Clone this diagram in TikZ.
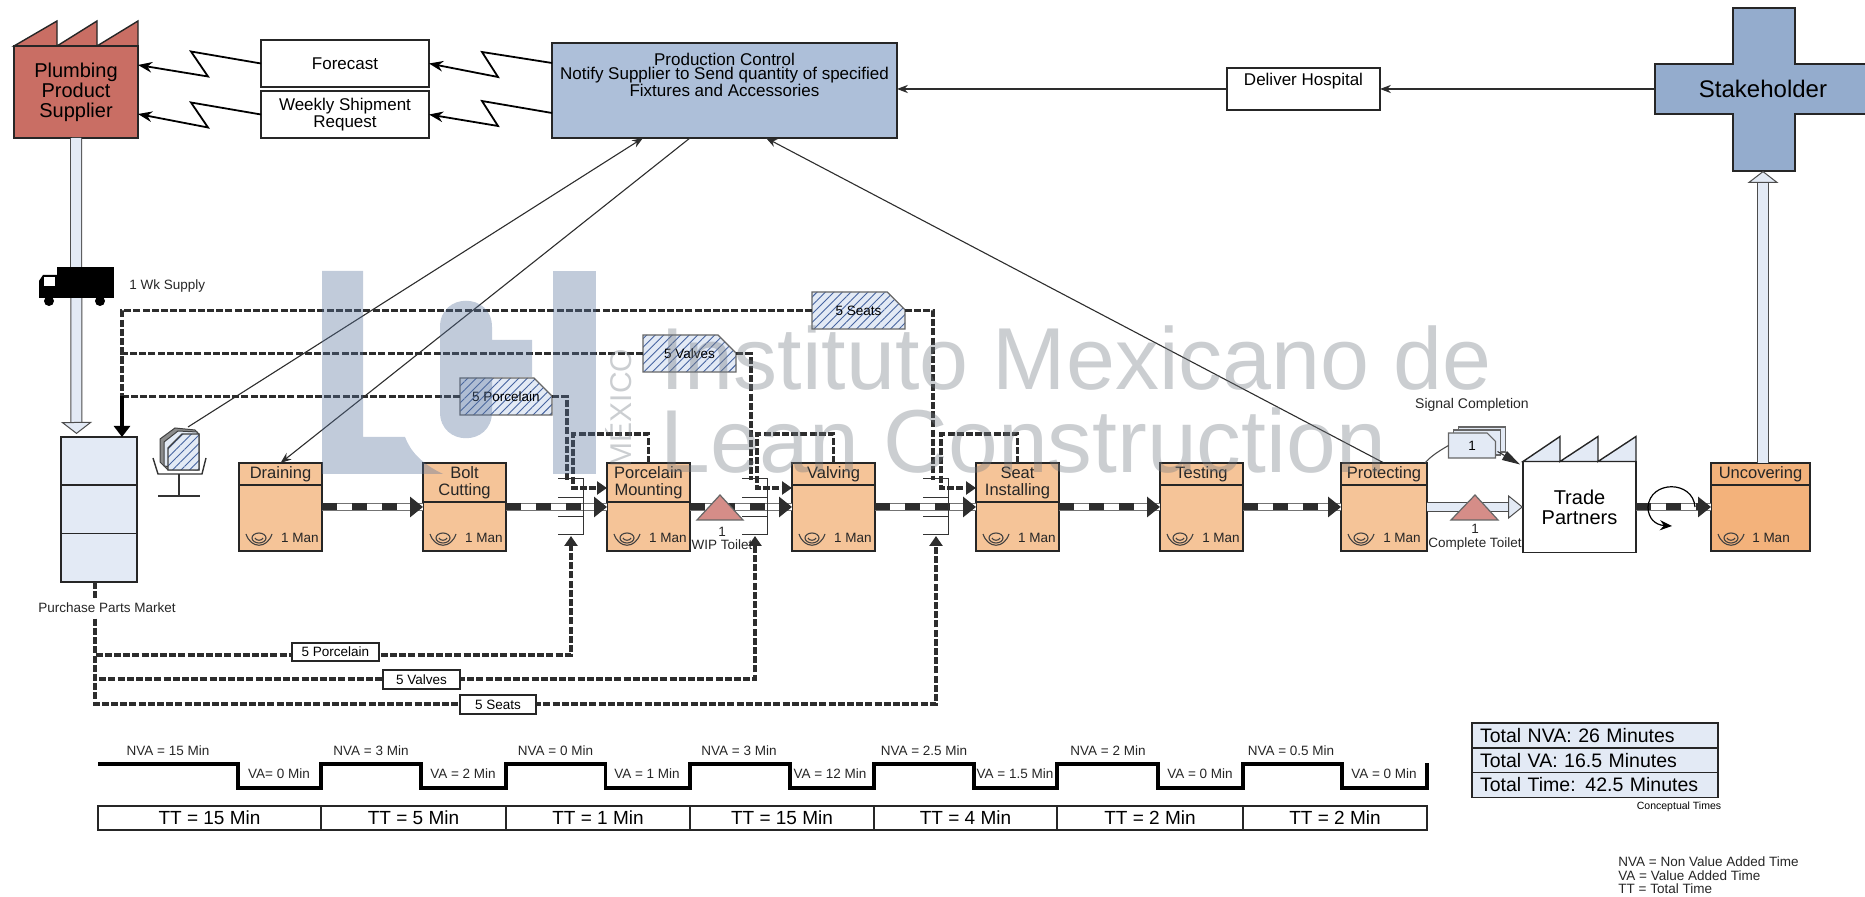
\documentclass[tikz,border=0pt]{standalone}
\usepackage{fontspec}
\setmainfont{Liberation Sans}
\usetikzlibrary{arrows.meta,positioning,shapes.misc,patterns.meta,calc}
\definecolor{SupplierRed}{RGB}{201,110,100}
\definecolor{ControlBlue}{RGB}{173,191,217}
\definecolor{StakeBlue}{RGB}{148,172,205}
\definecolor{PaleBlue}{RGB}{227,234,245}
\definecolor{ProcOrange}{RGB}{245,196,152}
\definecolor{LastOrange}{RGB}{243,178,123}
\definecolor{InvRed}{RGB}{213,141,136}
\definecolor{HatchBlue}{RGB}{70,100,160}
\definecolor{LineDark}{RGB}{45,45,45}
\definecolor{MarkBlue}{RGB}{87,114,155}
\definecolor{MarkGray}{RGB}{115,122,130}

\begin{document}
\begin{tikzpicture}[
    x=0.5pt, y=-0.5pt,
    >=Stealth,
    base/.style={draw=black!85, line width=0.7pt, inner sep=0pt, outer sep=0pt},
    infobox/.style={base, fill=white, minimum width=84pt, minimum height=23.5pt,
                    align=center, font=\fontsize{8.5}{6.75}\selectfont},
    factory/.style={base, align=center, font=\fontsize{10}{10}\selectfont},
    proc/.style={base, fill=#1, minimum width=41.5pt, minimum height=44pt},
    proc/.default=ProcOrange,
    proctitle/.style={inner sep=0pt, align=center, text=black!85, font=\fontsize{8.25}{8.5}\selectfont},
    mantext/.style={inner sep=0pt, text=black!85, font=\fontsize{6.75}{6.75}\selectfont},
    smalltxt/.style={inner sep=0pt, align=center, text=black!85, font=\fontsize{6.75}{6.75}\selectfont},
    qtybox/.style={base, fill=white, font=\fontsize{6.75}{6.75}\selectfont},
    kanban/.style={chamfered rectangle, chamfered rectangle corners=north east,
                   chamfered rectangle xsep=8pt, chamfered rectangle ysep=6.5pt,
                   draw=black!60, line width=0.6pt, inner sep=0pt, outer sep=0pt,
                   minimum width=46.5pt, minimum height=18.5pt,
                   preaction={fill=PaleBlue},
                   pattern={Lines[angle=45,distance=3pt,line width=0.45pt]}, pattern color=HatchBlue,
                   font=\fontsize{6.75}{6.75}\selectfont},
    sigcard/.style={chamfered rectangle, chamfered rectangle corners=north east,
                    chamfered rectangle xsep=8pt, chamfered rectangle ysep=7pt,
                    draw=black!60, fill=PaleBlue, line width=0.6pt, inner sep=0pt, outer sep=0pt,
                    minimum width=23.5pt, minimum height=12.5pt,
                    font=\fontsize{6.75}{6.75}\selectfont},
    elec/.style={->, line width=0.9pt, draw=black},
    info/.style={->, line width=0.55pt, draw=LineDark},
    signal/.style={draw=LineDark, line width=1.8pt, dash pattern=on 3.5pt off 1.1pt},
    sigarr/.style={signal, -{Triangle[length=5pt,width=6.5pt]}},
    pushflow/.style={draw=LineDark, line width=3.5pt, dash pattern=on 7.5pt off 7.5pt,
                     -{Triangle[length=6.5pt,width=10pt]},
                     preaction={draw=black!55, line width=0.35pt, solid, double=white,
                                double distance=3pt, arrows=-}},
    hollow/.style={draw=black!70, line width=0.5pt, double=PaleBlue, double distance=5pt,
                   -{Triangle[length=6pt,width=15.5pt,fill=PaleBlue]}},
    invtri/.style={draw=black!60, fill=InvRed, line width=0.6pt},
    timeline/.style={draw=black, line width=1.9pt},
    ttcell/.style={base, fill=white, minimum height=12pt, font=\fontsize{9.5}{9.5}\selectfont},
    totalrow/.style={base, fill=PaleBlue, text width=115pt, inner xsep=4pt, minimum height=12.35pt,
                     align=left, font=\fontsize{9.75}{9.75}\selectfont},
    operator/.pic={
        \draw[black!75, line width=0.55pt] (0,0) ellipse (7 and 5);
        \draw[black!75, line width=0.55pt] (-13,-4) .. controls (-8,11) and (8,11) .. (13,-4);
        \draw[black!75, line width=0.55pt] (-4,0) .. controls (-3,3) and (3,3) .. (4,0);
    },
    supermkt/.pic={
        \draw[black!80, line width=0.5pt] (-25,0) -- (0,0) -- (0,56) -- (-25,56);
        \draw[black!80, line width=0.5pt] (-25,19) -- (0,19);
        \draw[black!80, line width=0.5pt] (-25,38) -- (0,38);
    },
]
\clip (0,0) rectangle (1865,897);

% ── Supplier with roof ──
\draw[base, fill=SupplierRed] (14,46) -- (57,21) -- (57,46) -- (97,21) -- (97,46) -- (138,21) -- (138,46) -- cycle;
\node[factory, fill=SupplierRed, minimum width=62pt, minimum height=46pt] (supplier) at (76,92)
    {Plumbing\\Product\\Supplier};

% ── Info boxes ──
\node[infobox] (forecast) at (345,63.5) {Forecast};
\node[infobox, below=2pt of forecast] (weekly) {Weekly Shipment\\Request};
\node[base, fill=ControlBlue, minimum width=172.5pt, minimum height=47.5pt] (production) at (724.5,90.5) {};
\node[inner sep=0pt, align=center, font=\fontsize{8.5}{6.9}\selectfont] (prodtext)
    at ([yshift=-16pt]production.north) {Production Control\\Notify Supplier to Send quantity of specified\\Fixtures and Accessories};
\node[base, fill=white, minimum width=76.5pt, minimum height=21pt] (deliver) at (1303.5,89) {};
\node[inner sep=0pt, font=\fontsize{8.5}{8.5}\selectfont] (delivertext)
    at ([yshift=-6.5pt]deliver.north) {Deliver Hospital};

% ── Stakeholder cross ──
\draw[base, fill=StakeBlue] (1655,64) -- (1733,64) -- (1733,8) -- (1795,8) -- (1795,64) -- (1875,64)
    -- (1875,114) -- (1795,114) -- (1795,171) -- (1733,171) -- (1733,114) -- (1655,114) -- cycle;
\node[minimum width=108pt, minimum height=25pt, inner sep=0pt, outer sep=0pt,
      font=\fontsize{12}{12}\selectfont] (stakeholder) at (1763,89) {Stakeholder};
\coordinate (stakein) at (1763,171);

% ── Electronic signals ──
\draw[elec] ([yshift=13.75pt]production.west) -- ++(-70,-11) -- ++(16,25) -- (forecast.east);
\draw[elec] ([yshift=-11.25pt]production.west) -- ++(-70,-12) -- ++(16,25) -- (weekly.east);
\draw[elec] (forecast.west) -- ++(-70,-12) -- ++(17,25) -- ([yshift=13.5pt]supplier.east);
\draw[elec] (weekly.west) -- ++(-70,-12) -- ++(17,25) -- ([yshift=-11pt]supplier.east);
\draw[info] (stakeholder.west) -- (deliver.east);
\draw[info] (deliver.west) -- (production.east |- deliver.west);

% ── Purchase parts market ──
\node[base, fill=PaleBlue, minimum width=38pt, minimum height=24.17pt] (marketA) at (99,461) {};
\node[base, fill=PaleBlue, minimum width=38pt, minimum height=24.17pt, below=0pt of marketA] (marketB) {};
\node[base, fill=PaleBlue, minimum width=38pt, minimum height=24.17pt, below=0pt of marketB] (marketC) {};
\coordinate (mktin) at (122,437);
\coordinate (mktjoin) at (122,396.5);
\coordinate (mktout) at (95,582);
\coordinate (truckin) at (76.5,434);

% ── Push from supplier, truck on top ──
\draw[hollow] (supplier.south) -- (truckin);
\fill[black] (57,267) rectangle (114,298);
\fill[black] (39,298) -- (39,281) -- (43,275) -- (57,275) -- (57,298) -- cycle;
\fill[white] (43.5,277) rectangle (54.5,286);
\fill[black] (49,301) circle (5) (100,301) circle (5);
\node[smalltxt, anchor=west] (wksupply) at (129,286) {1 Wk Supply};

% ── Process boxes ──
\node[proc, anchor=north west] (draining) at (239,463) {};
\node[proc, right=50.5pt of draining] (bolt) {};
\node[proc, right=50.5pt of bolt] (porcelain) {};
\node[proc, right=51pt of porcelain] (valving) {};
\node[proc, right=50.5pt of valving] (seat) {};
\node[proc, right=50.5pt of seat] (testing) {};
\node[proc, right=49pt of testing, minimum width=43pt] (protecting) {};
\node[factory, fill=white, right=48pt of protecting, minimum width=56.5pt, minimum height=45.5pt,
      inner sep=0pt] (trade) {Trade\\Partners};
\draw[base, fill=PaleBlue] (trade.north west) -- ++(37,-25) -- ++(0,25) -- ++(38,-25) -- ++(0,25) -- ++(38,-25) -- (trade.north east) -- cycle;
\node[proc=LastOrange, right=37.5pt of trade, minimum width=49.5pt] (uncovering) {};

% ── Dividers: title row is short or tall ──
\draw[base] ([yshift=-11pt]draining.north west) -- ([yshift=-11pt]draining.north east);
\draw[base] ([yshift=-19.5pt]bolt.north west) -- ([yshift=-19.5pt]bolt.north east);
\draw[base] ([yshift=-19.5pt]porcelain.north west) -- ([yshift=-19.5pt]porcelain.north east);
\draw[base] ([yshift=-11pt]valving.north west) -- ([yshift=-11pt]valving.north east);
\draw[base] ([yshift=-19.5pt]seat.north west) -- ([yshift=-19.5pt]seat.north east);
\draw[base] ([yshift=-11pt]testing.north west) -- ([yshift=-11pt]testing.north east);
\draw[base] ([yshift=-11pt]protecting.north west) -- ([yshift=-11pt]protecting.north east);
\draw[base] ([yshift=-11pt]uncovering.north west) -- ([yshift=-11pt]uncovering.north east);

% ── Titles ──
\node[proctitle] (draintitle) at ([yshift=-5.5pt]draining.north) {Draining};
\node[proctitle] (bolttitle) at ([yshift=-9.75pt]bolt.north) {Bolt\\Cutting};
\node[proctitle] (porctitle) at ([yshift=-9.75pt]porcelain.north) {Porcelain\\Mounting};
\node[proctitle] (valvtitle) at ([yshift=-5.5pt]valving.north) {Valving};
\node[proctitle] (seattitle) at ([yshift=-9.75pt]seat.north) {Seat\\Installing};
\node[proctitle] (testtitle) at ([yshift=-5.5pt]testing.north) {Testing};
\node[proctitle] (prottitle) at ([yshift=-5.5pt]protecting.north) {Protecting};
\node[proctitle] (uncotitle) at ([yshift=-5.5pt]uncovering.north) {Uncovering};

% ── Operators ──
\pic at ([xshift=10pt,yshift=6.5pt]draining.south west) {operator};
\pic at ([xshift=10pt,yshift=6.5pt]bolt.south west) {operator};
\pic at ([xshift=10pt,yshift=6.5pt]porcelain.south west) {operator};
\pic at ([xshift=10pt,yshift=6.5pt]valving.south west) {operator};
\pic at ([xshift=10pt,yshift=6.5pt]seat.south west) {operator};
\pic at ([xshift=10pt,yshift=6.5pt]testing.south west) {operator};
\pic at ([xshift=10pt,yshift=6.5pt]protecting.south west) {operator};
\pic at ([xshift=10pt,yshift=6.5pt]uncovering.south west) {operator};
\node[mantext] (manA) at ([xshift=-11pt,yshift=6.5pt]draining.south east) {1 Man};
\node[mantext] (manB) at ([xshift=-11pt,yshift=6.5pt]bolt.south east) {1 Man};
\node[mantext] (manC) at ([xshift=-11pt,yshift=6.5pt]porcelain.south east) {1 Man};
\node[mantext] (manD) at ([xshift=-11pt,yshift=6.5pt]valving.south east) {1 Man};
\node[mantext] (manE) at ([xshift=-11pt,yshift=6.5pt]seat.south east) {1 Man};
\node[mantext] (manF) at ([xshift=-11pt,yshift=6.5pt]testing.south east) {1 Man};
\node[mantext] (manG) at ([xshift=-12.5pt,yshift=6.5pt]protecting.south east) {1 Man};
\node[mantext] (manH) at ([xshift=-19.5pt,yshift=6.5pt]uncovering.south east) {1 Man};

% ── Push flow ──
\draw[pushflow] (draining.east) -- (bolt.west);
\draw[pushflow] (bolt.east) -- (porcelain.west);
\draw[pushflow] (porcelain.east) -- (valving.west);
\draw[pushflow] (valving.east) -- (seat.west);
\draw[pushflow] (seat.east) -- (testing.west);
\draw[pushflow] (testing.east) -- (protecting.west);
\draw[pushflow] (trade.east) -- (uncovering.west);
\draw[hollow, double distance=4pt, -{Triangle[length=7.5pt,width=12pt,fill=PaleBlue]}] (protecting.east) -- (trade.west);
\draw[hollow] (uncovering.north -| stakein) -- (stakein);

% ── Supermarkets ──
\pic at (583,479) {supermkt};
\pic at (767,479) {supermkt};
\pic at (948,479) {supermkt};
\coordinate (withdrawA) at (567,480);
\coordinate (withdrawB) at (751,480);
\coordinate (withdrawC) at (933,480);
\coordinate (pullA) at (571,536);
\coordinate (pullB) at (755,536);
\coordinate (pullC) at (936,536);

% ── Kanban posts on the top lines ──
\node[kanban] (seatkan) at (858.5,310.5) {5 Seats};
\node[kanban] (valvekan) at (689.5,353.5) {5 Valves};
\node[kanban, minimum width=46pt] (porckan) at (506,396.5) {5 Porcelain};
\draw[signal] (seatkan.west) -| (mktjoin);
\draw[signal] (valvekan.west) -| (mktjoin);
\draw[signal] (porckan.west) -- (mktjoin);
\draw[draw=black, line width=2pt, -{Triangle[length=5.5pt,width=8pt]}] (mktjoin) -- (mktin);
\draw[signal] (seatkan.east) -| (withdrawC);
\draw[signal] (valvekan.east) -| (withdrawB);
\draw[signal] (porckan.east) -| (withdrawA);

% ── Withdrawal loops over the boxes ──
\draw[sigarr] (porcelain.north) |- (573,434) -- (573,488) -- ([yshift=9.5pt]porcelain.west);
\draw[sigarr] (valving.north) |- (757,434) -- (757,488) -- ([yshift=9.5pt]valving.west);
\draw[sigarr] (seat.north) |- (941,434) -- (941,488) -- ([yshift=9.5pt]seat.west);

% ── Return lines below ──
\draw[sigarr] (mktout) |- (571,655) -- (pullA);
\draw[sigarr] (mktout) |- (755,679) -- (pullB);
\draw[sigarr] (mktout) |- (936,704) -- (pullC);
\node[qtybox, minimum width=43.5pt, minimum height=9pt] (qtyporc) at (335.5,652) {5 Porcelain};
\node[qtybox, minimum width=38.5pt, minimum height=9.5pt] (qtyvalve) at (421.5,679.5) {5 Valves};
\node[qtybox, minimum width=38pt, minimum height=9.5pt] (qtyseat) at (498,704.5) {5 Seats};
\node[smalltxt, fill=white, inner ysep=2pt] (mkttext) at (107,608) {Purchase Parts Market};

% ── Control lines ──
\coordinate (posttop) at (188,427);
\draw[info] (posttop) -- ([xshift=-40.75pt]production.south);
\draw[info] ([xshift=-17.25pt]production.south) -- (draining.north);
\draw[info] (protecting.north) -- ([xshift=20.75pt]production.south);

% ── Kanban post ──
\draw[draw=black!75, fill=black!45, line width=0.5pt] (160,439) -- (175,428) -- (195,430) -- (199,434) -- (199,470) -- (168,470) -- (160,462) -- cycle;
\draw[draw=black!75, fill=PaleBlue, line width=0.5pt] (164,442) -- (178,431) -- (197,432) -- (197,470) -- (164,466) -- cycle;
\draw[draw=black!75, line width=0.6pt, preaction={fill=PaleBlue},
      pattern={Lines[angle=45,distance=3pt,line width=0.45pt]}, pattern color=HatchBlue]
    (168,448) -- (182,434) -- (199,434) -- (199,470) -- (168,470) -- cycle;
\draw[black!80, line width=0.7pt] (153,458) -- (158,474) -- (202,474) -- (206,458);
\draw[black!80, line width=0.7pt] (179,474) -- (179,496) (158,496) -- (200,496);

% ── Inventory triangles ──
\draw[invtri] (697,520) -- (720,495) -- (743,520) -- cycle;
\draw[invtri] (1451,520) -- (1475,495) -- (1498,520) -- cycle;
\node[smalltxt] (wiptext) at (722,538.5) {1\\WIP Toilet};
\node[smalltxt] (donetext) at (1475,537.5) {1\\Complete Toilet};

% ── Signal cards to trade partners ──
\node[smalltxt, font=\fontsize{7}{7}\selectfont] (signaltext) at (1472,405) {Signal Completion};
\node[sigcard] (sigC) at (1482,439.5) {};
\node[sigcard] (sigB) at (1477,442.5) {};
\node[sigcard] (sigA) at (1472,445.5) {1};
\draw[black!70, line width=0.55pt] ([xshift=-1pt]protecting.north east) .. controls (1431,456) and (1439,451) .. (sigA.west);
\draw[draw=LineDark, line width=0.55pt, -{Triangle[length=9pt,width=5pt]}]
    ([xshift=1pt,yshift=-3pt]sigA.east) -- ([xshift=-1.5pt,yshift=-1.5pt]trade.north west);

% ── Changeover loop ──
\coordinate (loopstart) at (1695,507);
\coordinate (loopend) at (1672,526);
\draw[black, line width=0.6pt, -{Stealth[length=6pt,width=5pt]}] (loopstart) .. controls (1693,480) and (1650,480) .. (1648,507) .. controls (1648,518) and (1655,525) .. (loopend);

% ── Timeline ──
\draw[timeline] (98,764) -| (238,788) -| (321,764) -| (421,788) -| (506,764) -| (605.5,788) -| (690,764) -| (790,788)
    -| (874,764) -| (974,788) -| (1057,764) -| (1158,788) -| (1243,764) -| (1342,788) -| (1427,763);
\node[smalltxt] (nvaA) at (168,751) {NVA = 15 Min};
\node[smalltxt] (nvaB) at (371,751) {NVA = 3 Min};
\node[smalltxt] (nvaC) at (555.5,751) {NVA = 0 Min};
\node[smalltxt] (nvaD) at (739,751) {NVA = 3 Min};
\node[smalltxt] (nvaE) at (924,751) {NVA = 2.5 Min};
\node[smalltxt] (nvaF) at (1108,751) {NVA = 2 Min};
\node[smalltxt] (nvaG) at (1291,751) {NVA = 0.5 Min};
\node[smalltxt] (vaA) at (279,774) {VA= 0 Min};
\node[smalltxt] (vaB) at (463,774) {VA = 2 Min};
\node[smalltxt] (vaC) at (647,774) {VA = 1 Min};
\node[smalltxt] (vaD) at (830,774) {VA = 12 Min};
\node[smalltxt] (vaE) at (1015,774) {VA = 1.5 Min};
\node[smalltxt] (vaF) at (1200,774) {VA = 0 Min};
\node[smalltxt] (vaG) at (1384,774) {VA = 0 Min};

% ── Total time row ──
\node[ttcell, anchor=west, minimum width=111.5pt] (ttA) at (98,818) {TT = 15 Min};
\node[ttcell, right=0pt of ttA, minimum width=92.5pt] (ttB) {TT = 5 Min};
\node[ttcell, right=0pt of ttB, minimum width=92pt] (ttC) {TT = 1 Min};
\node[ttcell, right=0pt of ttC, minimum width=92pt] (ttD) {TT = 15 Min};
\node[ttcell, right=0pt of ttD, minimum width=91.5pt] (ttE) {TT = 4 Min};
\node[ttcell, right=0pt of ttE, minimum width=93pt] (ttF) {TT = 2 Min};
\node[ttcell, right=0pt of ttF, minimum width=92pt] (ttG) {TT = 2 Min};

% ── Totals and legend ──
\node[totalrow] (totalnva) at (1595,735.5) {Total NVA: 26 Minutes};
\node[totalrow, below=0pt of totalnva] (totalva) {Total VA: 16.5 Minutes};
\node[totalrow, below=0pt of totalva] (totaltime) {Total Time: 42.5 Minutes};
\node[inner sep=0pt, font=\fontsize{5.25}{5.25}\selectfont] (conceptual) at (1679,807) {Conceptual Times};
\node[smalltxt, anchor=west, align=left] (legend) at (1618,875.5) {NVA = Non Value Added Time\\VA = Value Added Time\\TT = Total Time};

% ── Watermark on top of everything ──
\begin{scope}[opacity=0.37]
\fill[MarkBlue] (322,271) -- (363,271) -- (363,437) -- (405,437) .. controls (410,450) and (420,463) .. (443,474) -- (322,474) -- cycle;
\fill[MarkBlue] (553,271) rectangle (596,474);
\fill[MarkBlue] (440,327) .. controls (440,292) and (492,292) .. (492,327) -- (492,340) -- (532,340) -- (532,377) -- (492,377)
    -- (492,412) .. controls (492,447) and (440,447) .. (440,412) -- cycle;
\node[text=MarkGray, anchor=base west, inner sep=0pt, font=\fontsize{44}{44}\selectfont] (markA) at (660,390) {Instituto Mexicano de};
\node[text=MarkGray, anchor=base west, inner sep=0pt, font=\fontsize{44.7}{44.7}\selectfont] (markB) at (660,473) {Lean Construction};
\node[text=MarkGray, rotate=90, inner sep=0pt, font=\fontsize{15}{15}\selectfont] (markC) at (619,408) {MÉXICO};
\end{scope}

\end{tikzpicture}
\end{document}
